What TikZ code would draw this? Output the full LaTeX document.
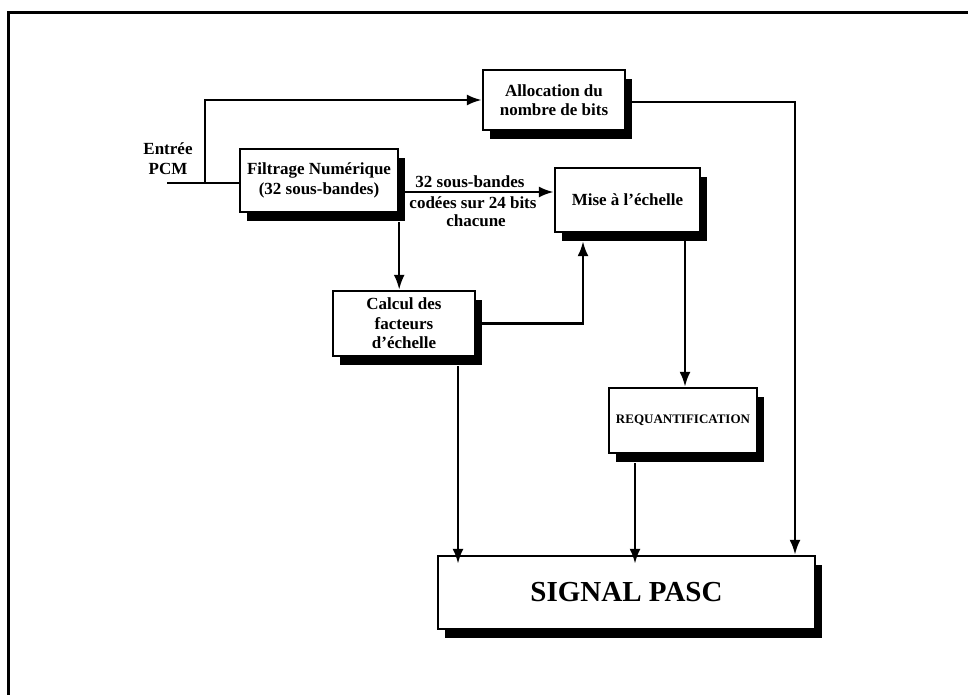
\documentclass[tikz,border=0pt]{standalone}
\usepackage{fontspec}
\setmainfont{Liberation Serif}
\usetikzlibrary{arrows.meta,shadows,calc}
\begin{document}
\begin{tikzpicture}[x=1pt,y=-1pt,
  txt/.style={font=\fontsize{17}{19.5}\selectfont\bfseries, align=center, inner sep=0pt},
  blk/.style={txt, draw, line width=2.4pt, fill=white,
    drop shadow={shadow xshift=7pt, shadow yshift=-9pt, fill=black, opacity=1}},
  conn/.style={line width=2.5pt, -{Latex[length=15pt,width=11pt]}},
  wire/.style={line width=2.5pt},
  frameline/.style={line width=3pt}]
\useasboundingbox (0,0) rectangle (968,695);
\fill[white] (0,0) rectangle (968,695);
% frame
\coordinate (fr1) at (968,13);
\coordinate (fr2) at (8,13);
\coordinate (fr3) at (8,695);
\draw[frameline] (fr1) -- (fr2) -- (fr3);

% blocks
\node[blk, minimum width=142pt, minimum height=60pt] (alloc) at (554,100) {Allocation du\\nombre de bits};
\node[blk, minimum width=158pt, minimum height=63pt] (filt) at (319,180.5) {Filtrage Numérique\\(32 sous-bandes)};
\node[blk, minimum width=145pt, minimum height=64pt] (mise) at (627.5,200) {Mise à l'échelle};
\node[blk, minimum width=142pt, minimum height=65pt] (calc) at (404,323.5) {Calcul des\\facteurs\\d'échelle};
\node[blk, minimum width=148pt, minimum height=65pt, font=\fontsize{13}{15}\selectfont\bfseries] (req) at (683,420.5) {REQUANTIFICATION};
\node[blk, minimum width=377pt, minimum height=73pt, font=\fontsize{29}{33}\selectfont\bfseries] (sig) at (626.5,592.5) {SIGNAL PASC};

% input
\node[txt] (entree) at (168,158.5) {Entrée\\PCM};
\coordinate (inp) at (167,183);
\coordinate (br) at (205,183);
\draw[wire] (inp) -- (inp -| filt.west);
\draw[conn] (br) |- (alloc.west);

% filt -> mise with labels
\draw[conn] ([shift={(0,11.5)}]filt.east) -- ([shift={(0,11.5)}]filt.east -| mise.west);
\node[txt] (l1) at (470,182) {32 sous-bandes};
\node[txt] (l2) at (473,203) {codées sur 24 bits};
\node[txt] (l3) at (476,220.5) {chacune};

% filt -> calc
\draw[conn] ([shift={(0,9)}]filt.south east) -- (filt.south east |- calc.north);
% calc -> mise
\draw[conn] (calc.east) -| ([shift={(-44.5,8)}]mise.south);
% mise -> req
\draw[conn] ([shift={(57.5,8)}]mise.south) -- ([shift={(2,0)}]req.north);
% calc -> sig
\draw[conn] ([shift={(54,9)}]calc.south) -- ([shift={(54,9)}]calc.south |- sig.north);
% req -> sig
\draw[conn] ([shift={(-48,9)}]req.south) -- ([shift={(-48,9)}]req.south |- sig.north);
% alloc -> sig
\draw[conn] ([shift={(0,2)}]alloc.east) -| ([shift={(168.5,0)}]sig.north);
\end{tikzpicture}
\end{document}
